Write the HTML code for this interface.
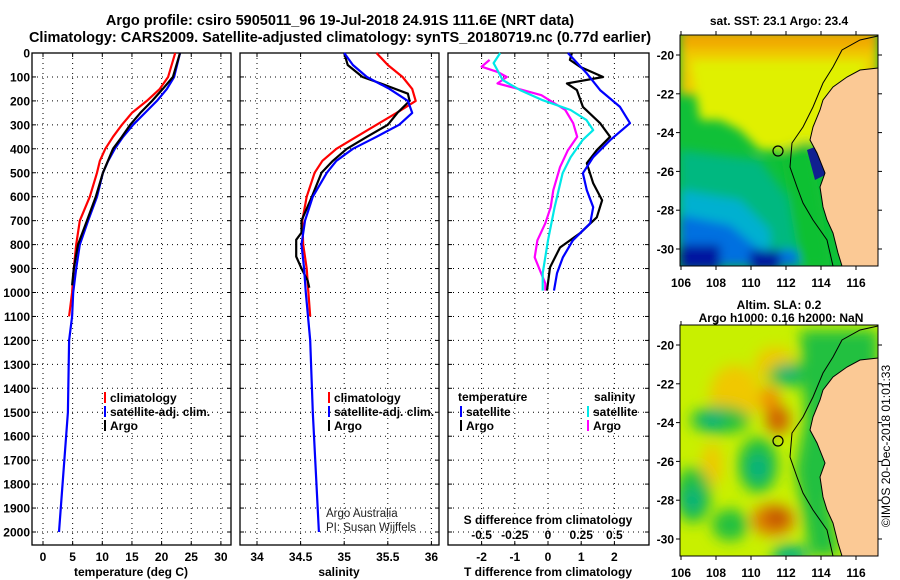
<!DOCTYPE html>
<html><head><meta charset="utf-8">
<style>
body{margin:0;background:#fff;}
svg{display:block;font-family:"Liberation Sans",sans-serif;}
.b{font-weight:bold;}
</style></head>
<body>
<svg id="fig" width="900" height="580" viewBox="0 0 900 580">
<defs>
<filter id="bl" x="-10%" y="-10%" width="120%" height="120%"><feGaussianBlur stdDeviation="5"/></filter>
<filter id="bl2" x="-10%" y="-10%" width="120%" height="120%"><feGaussianBlur stdDeviation="7"/></filter>
<clipPath id="c1"><rect x="680" y="35" width="198" height="231"/></clipPath>
<clipPath id="c2"><rect x="680" y="325" width="198" height="231"/></clipPath>
</defs>
<text x="340" y="25" text-anchor="middle" class="b" font-size="14.5">Argo profile: csiro 5905011_96 19-Jul-2018 24.91S 111.6E (NRT data)</text>
<text x="340" y="42" text-anchor="middle" class="b" font-size="14.5">Climatology: CARS2009. Satellite-adjusted climatology: synTS_20180719.nc (0.77d earlier)</text>
<g id="axes"></g>
<g id="maps">
 <text x="779" y="25" text-anchor="middle" class="b" font-size="12">sat. SST: 23.1 Argo: 23.4</text>
 <g clip-path="url(#c1)">
  <rect x="680" y="35" width="198" height="231" fill="#10c038"/>
  <g filter="url(#bl)">
   <rect x="680" y="35" width="198" height="60" fill="#f0c800"/>
   <polygon points="690,60 870,60 830,140 800,150 760,150 740,130 720,120 700,120" fill="#e0f000"/>
   <rect x="680" y="30" width="198" height="18" fill="#f0a800"/>
   <polygon points="680,150 760,160 790,200 800,266 680,266" fill="#00b880"/>
   <polygon points="680,190 740,200 770,230 770,266 680,266" fill="#00b0d0"/>
   <polygon points="680,215 730,225 760,250 800,250 810,266 680,266" fill="#0070e0"/>
   <rect x="680" y="245" width="40" height="25" fill="#0018a0"/>
   <rect x="750" y="250" width="30" height="20" fill="#0018a0"/>
   <polygon points="780,150 810,140 820,200 830,266 800,266" fill="#10c030"/>
  </g>
  <polygon points="807,150 820,145 825,175 815,180" fill="#102090"/>
 </g>
 <rect x="680" y="35" width="198" height="231" fill="none" stroke="#000"/>
 <text x="779" y="309" text-anchor="middle" class="b" font-size="12">Altim. SLA: 0.2</text>
 <g clip-path="url(#c2)">
  <rect x="680" y="325" width="198" height="231" fill="#c8f000"/>
  <g filter="url(#bl2)">
   <ellipse cx="735" cy="395" rx="25" ry="30" fill="#f0c800"/>
   <ellipse cx="775" cy="365" rx="20" ry="18" fill="#f0c800"/>
   <ellipse cx="770" cy="400" rx="10" ry="14" fill="#f09000"/>
   <ellipse cx="778" cy="420" rx="12" ry="14" fill="#d06000"/>
   <ellipse cx="773" cy="520" rx="22" ry="16" fill="#e08000"/>
   <ellipse cx="777" cy="518" rx="12" ry="9" fill="#c05000"/>
   <ellipse cx="712" cy="465" rx="10" ry="22" fill="#f0c800"/>
   <ellipse cx="790" cy="375" rx="22" ry="12" fill="#20c040"/>
   <ellipse cx="788" cy="373" rx="10" ry="7" fill="#00b080"/>
   <ellipse cx="720" cy="420" rx="30" ry="14" fill="#20c040"/>
   <ellipse cx="712" cy="420" rx="12" ry="8" fill="#00b080"/>
   <ellipse cx="758" cy="465" rx="20" ry="28" fill="#20c040"/>
   <ellipse cx="758" cy="468" rx="10" ry="14" fill="#00b080"/>
   <ellipse cx="693" cy="495" rx="18" ry="28" fill="#20c040"/>
   <ellipse cx="693" cy="500" rx="9" ry="12" fill="#00b080"/>
   <ellipse cx="730" cy="525" rx="18" ry="16" fill="#20c040"/>
   <ellipse cx="790" cy="555" rx="18" ry="10" fill="#00b080"/>
   <polygon points="800,330 878,330 878,420 830,500 840,556 810,556 795,470 805,420" fill="#20c040"/>
  </g>
 </g>
 <rect x="680" y="325" width="198" height="231" fill="none" stroke="#000"/>
 <text x="890" y="446" transform="rotate(-90 890 446)" text-anchor="middle" font-size="12">©IMOS 20-Dec-2018 01:01:33</text>
</g>
<g id="plots"></g>
</svg>
<script>
// ---- data ----
const depthTicks=[0,100,200,300,400,500,600,700,800,900,1000,1100,1200,1300,1400,1500,1600,1700,1800,1900,2000];
const tTicks=[0,5,10,15,20,25,30];
const sTicks=[34,34.5,35,35.5,36];
const dTTicks=[-2,-1,0,1,2];
const dSTickLabels=["-0.5","-0.25","0","0.25","0.5"];
const lonTicks=[106,108,110,112,114,116];
const latTicks=[-20,-22,-24,-26,-28,-30];

const tClimDepth=[0,100,150,200,250,300,350,400,450,500,600,700,800,900,1000,1100];
const tClimVal=[22.3,21.1,19.7,17.5,15,13.3,11.8,10.5,9.6,9.1,7.9,6.2,5.6,5.2,4.9,4.4];
const tSatDepth=[0,100,150,200,250,300,350,400,450,500,600,700,800,900,1000,1100,1200,1500,2000];
const tSatVal=[23.1,22.1,20.9,19.2,17.2,15.2,13.5,12.1,11,10.1,9.1,7.6,6.2,5.6,5.1,4.9,4.4,4.2,2.7];
const tArgoDepth=[0,100,150,200,250,300,350,400,500,600,700,800,900,970];
const tArgoVal=[23.1,21.9,20.2,18.4,16.4,14.7,13.3,11.8,10.1,8.9,7.4,5.9,5.2,4.9];

const sClimDepth=[0,50,100,150,200,250,300,350,400,450,500,600,700,800,900,1000,1100];
const sClimVal=[35.37,35.5,35.67,35.78,35.82,35.6,35.37,35.14,34.91,34.75,34.66,34.57,34.52,34.53,34.57,34.59,34.61];
const sSatDepth=[0,50,100,150,200,250,300,350,400,450,500,600,700,800,900,1000,1200,1500,2000];
const sSatVal=[35.0,35.1,35.26,35.52,35.73,35.78,35.63,35.37,35.1,34.91,34.8,34.64,34.55,34.51,34.54,34.56,34.61,34.64,34.71];
const sArgoDepth=[0,50,100,130,170,200,250,300,350,400,450,500,600,700,750,780,850,900,950,980];
const sArgoVal=[35.0,35.04,35.21,35.44,35.73,35.75,35.61,35.5,35.26,35.03,34.87,34.74,34.63,34.51,34.51,34.45,34.45,34.51,34.58,34.6];

const dTSatDepth=[0,85,155,225,293,364,435,502,573,644,711,782,853,920,992];
const dTSatVal=[0.6,1.17,1.57,2.17,2.47,1.87,1.36,1.05,1.17,1.36,1.27,0.75,0.45,0.27,0.18];
const dTArgoDepth=[0,29,57,100,127,155,225,293,350,406,460,544,615,686,753,812,895,992];
const dTArgoVal=[0.72,0.66,0.96,1.66,0.57,0.87,1.05,1.57,1.87,1.47,1.17,1.36,1.63,1.47,0.96,0.36,0.06,-0.03];
const dSSatDepth=[0,42,113,155,197,238,280,322,364,435,502,573,644,782,920,992];
const dSSatVal=[-0.36,-0.41,-0.34,-0.21,-0.04,0.17,0.29,0.34,0.26,0.17,0.11,0.08,0.05,0,-0.04,-0.04];
const dSArgoDepth=[29,57,79,100,127,155,176,238,293,350,406,477,573,644,711,782,853,908,962,992];
const dSArgoVal=[-0.44,-0.5,-0.38,-0.31,-0.38,-0.19,-0.05,0.13,0.19,0.22,0.15,0.09,0.04,0.02,-0.02,-0.08,-0.1,-0.06,-0.02,-0.02];

// ---- scales ----
const y=d=>53+0.2395*d;
const xT=v=>43+5.93*v;
const xS=v=>257+87.2*(v-34);
const xDT=v=>548+33.2*v;
const xDS=v=>548+132.8*v;
const mapX=lon=>681+17.5*(lon-106);
const mapY1=lat=>55+19.4*(-20-lat);
const mapY2=lat=>345+19.4*(-20-lat);

const NS='http://www.w3.org/2000/svg';
const axesG=document.getElementById('axes');
const plotsG=document.getElementById('plots');
const mapsG=document.getElementById('maps');
function mk(tag,attrs,parent){const e=document.createElementNS(NS,tag);for(const k in attrs)e.setAttribute(k,attrs[k]);parent.appendChild(e);return e;}
function txt(s,x,yy,attrs,parent){const e=mk('text',Object.assign({x:x,y:yy},attrs),parent);e.textContent=s;return e;}

const panels=[{x0:32,x1:231,name:'temperature-panel'},{x0:240,x1:439,name:'salinity-panel'},{x0:448,x1:649,name:'difference-panel'}];
const yTop=53,yBot=545;
panels.forEach((p)=>{
  depthTicks.forEach(d=>{
    if(d>0){const l=mk('line',{x1:p.x0,x2:p.x1,y1:y(d),y2:y(d),stroke:'#000','stroke-dasharray':'1,4','stroke-width':1},axesG);
    
    }
    mk('line',{x1:p.x0,x2:p.x0+4,y1:y(d),y2:y(d),stroke:'#000'},axesG);
    mk('line',{x1:p.x1-4,x2:p.x1,y1:y(d),y2:y(d),stroke:'#000'},axesG);
  });
  const r=mk('rect',{x:p.x0,y:yTop,width:p.x1-p.x0,height:yBot-yTop,fill:'none',stroke:'#000','stroke-width':1.3},axesG);
  
  
});
depthTicks.forEach(d=>{
  const t=txt(String(d),30,y(d)+4.5,{'text-anchor':'end','font-size':12,'font-weight':'bold'},axesG);
  
  
});
function vgrid(vals,fx,labels,ly){
  vals.forEach((v,i)=>{
    const X=fx(v);
    const l=mk('line',{x1:X,x2:X,y1:yTop,y2:yBot,stroke:'#000','stroke-dasharray':'1,4'},axesG);
    
    
    mk('line',{x1:X,x2:X,y1:yBot-4,y2:yBot,stroke:'#000'},axesG);
    mk('line',{x1:X,x2:X,y1:yTop,y2:yTop+4,stroke:'#000'},axesG);
    const t=txt(labels[i],X,ly,{'text-anchor':'middle','font-size':12,'font-weight':'bold'},axesG);
    
    
  });
}
vgrid(tTicks,xT,tTicks.map(String),561);
vgrid(sTicks,xS,sTicks.map(String),561);
vgrid(dTTicks,xDT,dTTicks.map(String),561);
dSTickLabels.forEach((s,i)=>{
  const t=txt(s,xDT(dTTicks[i]),539,{'text-anchor':'middle','font-size':12,'font-weight':'bold'},axesG);
  
  
});
[['temperature (deg C)',131,'temperature-axis-title'],['salinity',339,'salinity-axis-title'],['T difference from climatology',548,'t-diff-axis-title']].forEach(a=>{
  const t=txt(a[0],a[1],576,{'text-anchor':'middle','font-size':12,'font-weight':'bold'},axesG);
  
  
});
{const t=txt('S difference from climatology',548,524,{'text-anchor':'middle','font-size':12,'font-weight':'bold'},axesG);

}

function series(depths,vals,fx,color,name,w){
  const pts=depths.map((d,i)=>fx(vals[i]).toFixed(1)+','+y(d).toFixed(1)).join(' ');
  const pl=mk('polyline',{points:pts,fill:'none',stroke:color,'stroke-width':w||2.2,'stroke-linejoin':'round'},plotsG);
  
  
}
series(tClimDepth,tClimVal,xT,'#ff0000','temperature-climatology-line');
series(tSatDepth,tSatVal,xT,'#0000ff','temperature-satellite-line');
series(tArgoDepth,tArgoVal,xT,'#000000','temperature-argo-line');
series(sClimDepth,sClimVal,xS,'#ff0000','salinity-climatology-line');
series(sArgoDepth,sArgoVal,xS,'#000000','salinity-argo-line');
series(sSatDepth,sSatVal,xS,'#0000ff','salinity-satellite-line');
series(dSArgoDepth,dSArgoVal,xDS,'#ff00ff','s-diff-argo-line');
series(dSSatDepth,dSSatVal,xDS,'#00e8e8','s-diff-satellite-line');
series(dTArgoDepth,dTArgoVal,xDT,'#000000','t-diff-argo-line');
series(dTSatDepth,dTSatVal,xDT,'#0000ff','t-diff-satellite-line');

function leg(x,yy,color,label,name){
  mk('rect',{x:x,y:yy-10,width:2,height:11,fill:color},plotsG);
  const t=txt(label,x+6,yy,{'font-size':12,'font-weight':'bold'},plotsG);
  
  
}
leg(104,402,'#ff0000','climatology','legend-temp-climatology');
leg(104,416,'#0000ff','satellite-adj. clim.','legend-temp-satellite');
leg(104,430,'#000000','Argo','legend-temp-argo');
leg(328,402,'#ff0000','climatology','legend-sal-climatology');
leg(328,416,'#0000ff','satellite-adj. clim.','legend-sal-satellite');
leg(328,430,'#000000','Argo','legend-sal-argo');
{const t=txt('temperature',458,401,{'font-size':12,'font-weight':'bold'},plotsG);


const s=txt('salinity',594,401,{'font-size':12,'font-weight':'bold'},plotsG);

}
leg(460,416,'#0000ff','satellite','legend-tdiff-satellite');
leg(460,430,'#000000','Argo','legend-tdiff-argo');
leg(587,416,'#00e8e8','satellite','legend-sdiff-satellite');
leg(587,430,'#ff00ff','Argo','legend-sdiff-argo');
{const a=txt('Argo Australia',326,517,{'font-size':11.5,fill:'#222'},plotsG);


const b=txt('PI: Susan Wijffels',326,531,{'font-size':11.5,fill:'#222'},plotsG);

}

// ---- maps ----
const coast=[[878,35],[878,68],[860,70],[847,77],[833,87],[823,100],[820,110],[813,127],[810,140],[817,153],[825,173],[820,187],[823,207],[827,220],[833,233],[838,253],[842,266]];
const bathy=[[878,36],[860,40],[842,50],[833,67],[823,83],[813,107],[803,127],[792,143],[790,167],[797,187],[803,203],[813,220],[827,240],[833,266]];
function drawMap(off,yfun,name){
  const land=coast.map(p=>p[0]+','+(p[1]+off)).join(' ')+' 878,'+(266+off);
  const lp=mk('polygon',{points:land,fill:'#fbc995',stroke:'#000','stroke-width':1},mapsG);
  
  
  const bp=mk('polyline',{points:bathy.map(p=>p[0]+','+(p[1]+off)).join(' '),fill:'none',stroke:'#000','stroke-width':1},mapsG);
  
  
  const c=mk('circle',{cx:778,cy:151+off,r:5,fill:'none',stroke:'#000','stroke-width':1.2},mapsG);
  
  
  lonTicks.forEach(l=>{
    const X=mapX(l);
    mk('line',{x1:X,x2:X,y1:266+off,y2:270+off,stroke:'#000'},mapsG);
    mk('line',{x1:X,x2:X,y1:31+off,y2:35+off,stroke:'#000'},mapsG);
    const t=txt(String(l),X,287+off,{'text-anchor':'middle','font-size':12,'font-weight':'bold'},mapsG);
    
    
  });
  latTicks.forEach(l=>{
    const Y=yfun(l);
    mk('line',{x1:676,x2:680,y1:Y,y2:Y,stroke:'#000'},mapsG);
    mk('line',{x1:878,x2:882,y1:Y,y2:Y,stroke:'#000'},mapsG);
    const t=txt(String(l),674,Y+4.5,{'text-anchor':'end','font-size':12,'font-weight':'bold'},mapsG);
    
    
  });
}
drawMap(0,mapY1,'sst-map');
drawMap(290,mapY2,'sla-map');
{const t=txt('Argo h1000: 0.16 h2000: NaN',781,322,{'text-anchor':'middle','font-size':12,'font-weight':'bold'},mapsG);

}
</script>
</body></html>
